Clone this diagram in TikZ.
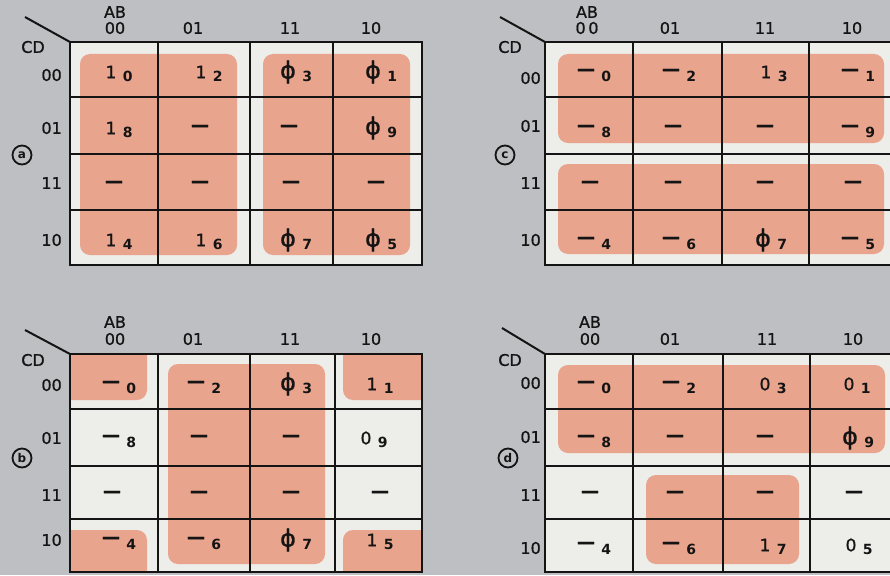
\documentclass[tikz,border=0pt]{standalone}
\usepackage{fontspec}
\setmainfont{DejaVu Sans}
\newfontfamily\hvyfont[FakeBold=1]{DejaVu Sans}
\definecolor{bggray}{RGB}{189,191,194}
\definecolor{cellw}{RGB}{237,237,233}
\definecolor{salmon}{RGB}{232,164,141}
\definecolor{ink}{RGB}{20,20,20}
\newcommand\kphi{{\fontsize{24}{24}\selectfont ϕ}}
\newcommand\kdash{{\bfseries\fontsize{18}{18}\selectfont —}}
\newcommand\kval[5]{%
  \node[val] (#1) at (#2,#3) {#4};
  \if\relax\detokenize{#5}\relax\else
    \node[num,anchor=west] (#1n) at ([xshift=6pt,yshift=-4pt]#1.east) {#5};
  \fi}
\tikzset{
  val/.style={inner sep=0pt, text=ink, font=\hvyfont\fontsize{17}{17}\selectfont},
  num/.style={inner sep=0pt, text=ink, font=\bfseries\fontsize{14}{14}\selectfont},
  hdr/.style={inner sep=0pt, text=ink, font=\hvyfont\fontsize{16}{16}\selectfont},
  rowlab/.style={hdr, anchor=east},
  tag/.style={circle, draw=ink, line width=1.8pt, minimum size=19pt, inner sep=0pt, text=ink, font=\bfseries\fontsize{12}{12}\selectfont},
  innerline/.style={draw=ink, line width=1.5pt},
  frame/.style={draw=ink, line width=2.4pt},
  diag/.style={draw=ink, line width=2pt},
  shade/.style={fill=salmon, rounded corners=10pt},
}
\begin{document}
\begin{tikzpicture}[x=1pt,y=-1pt]
\clip (0,0) rectangle (890,575);
\fill[bggray] (0,0) rectangle (890,575);

% ================= map (a)
\fill[cellw] (70,42) rectangle (422,265);
\begin{scope}
  \clip (70,42) rectangle (422,265);
  \fill[shade] (80,54) rectangle (237,255);
  \fill[shade] (263,54) rectangle (410,255);
\end{scope}
\foreach \x in {158,250,333} \draw[innerline] (\x,42) -- (\x,265);
\foreach \y in {97,154,210} \draw[innerline] (70,\y) -- (422,\y);
\draw[frame] (70,42) rectangle (422,265);
\coordinate (a-corner) at (70,42);
\coordinate (a-dstart) at (25,17);
\draw[diag] (a-dstart) -- (a-corner);
\node[hdr] (a-AB) at (115,12) {AB};
\node[hdr] (a-h1) at (115,28) {00};
\node[hdr] (a-h2) at (193,28) {01};
\node[hdr] (a-h3) at (290,28) {11};
\node[hdr] (a-h4) at (371,28) {10};
\node[hdr] (a-CD) at (33,47) {CD};
\node[rowlab] (a-r1) at (62,75) {00};
\node[rowlab] (a-r2) at (62,128) {01};
\node[rowlab] (a-r3) at (62,183) {11};
\node[rowlab] (a-r4) at (62,240) {10};
\node[tag] (a-tag) at (22,155) {a};
\kval{a11}{111}{72}{1}{0}
\kval{a12}{201}{72}{1}{2}
\kval{a13}{288}{72}{\kphi}{3}
\kval{a14}{373}{72}{\kphi}{1}
\kval{a21}{111}{128}{1}{8}
\kval{a22}{200}{128}{\kdash}{}
\kval{a23}{289}{128}{\kdash}{}
\kval{a24}{373}{128}{\kphi}{9}
\kval{a31}{114}{184}{\kdash}{}
\kval{a32}{200}{184}{\kdash}{}
\kval{a33}{291}{184}{\kdash}{}
\kval{a34}{376}{184}{\kdash}{}
\kval{a41}{111}{240}{1}{4}
\kval{a42}{201}{240}{1}{6}
\kval{a43}{288}{240}{\kphi}{7}
\kval{a44}{373}{240}{\kphi}{5}

% ================= map (c)
\fill[cellw] (545,42) rectangle (898,265);
\begin{scope}
  \clip (545,42) rectangle (898,265);
  \fill[shade] (558,54) rectangle (884,143);
  \fill[shade] (558,164) rectangle (884,254);
\end{scope}
\foreach \x in {633,722,809} \draw[innerline] (\x,42) -- (\x,265);
\foreach \y in {97,154,210} \draw[innerline] (545,\y) -- (898,\y);
\draw[frame] (545,42) rectangle (898,265);
\coordinate (c-corner) at (545,42);
\coordinate (c-dstart) at (500,17);
\draw[diag] (c-dstart) -- (c-corner);
\node[hdr] (c-AB) at (587,12) {AB};
\node[hdr] (c-h1) at (587,28) {0\,0};
\node[hdr] (c-h2) at (670,28) {01};
\node[hdr] (c-h3) at (765,28) {11};
\node[hdr] (c-h4) at (852,28) {10};
\node[hdr] (c-CD) at (510,47) {CD};
\node[rowlab] (c-r1) at (541,78) {00};
\node[rowlab] (c-r2) at (541,126) {01};
\node[rowlab] (c-r3) at (541,183) {11};
\node[rowlab] (c-r4) at (541,240) {10};
\node[tag] (c-tag) at (505,155) {c};
\kval{c11}{586}{72}{\kdash}{0}
\kval{c12}{671}{72}{\kdash}{2}
\kval{c13}{766}{72}{1}{3}
\kval{c14}{850}{72}{\kdash}{1}
\kval{c21}{586}{128}{\kdash}{8}
\kval{c22}{673}{128}{\kdash}{}
\kval{c23}{765}{128}{\kdash}{}
\kval{c24}{850}{128}{\kdash}{9}
\kval{c31}{590}{184}{\kdash}{}
\kval{c32}{673}{184}{\kdash}{}
\kval{c33}{765}{184}{\kdash}{}
\kval{c34}{853}{184}{\kdash}{}
\kval{c41}{586}{240}{\kdash}{4}
\kval{c42}{671}{240}{\kdash}{6}
\kval{c43}{763}{240}{\kphi}{7}
\kval{c44}{850}{240}{\kdash}{5}

% ================= map (b)
\fill[cellw] (70,354) rectangle (422,572);
\begin{scope}
  \clip (70,354) rectangle (422,572);
  \fill[shade] (40,320) rectangle (147,400);
  \fill[shade] (40,530) rectangle (147,610);
  \fill[shade] (343,320) rectangle (450,400);
  \fill[shade] (343,530) rectangle (450,610);
  \fill[shade] (168,364) rectangle (325,564);
\end{scope}
\foreach \x in {158,250,335} \draw[innerline] (\x,354) -- (\x,572);
\foreach \y in {409,466,519} \draw[innerline] (70,\y) -- (422,\y);
\draw[frame] (70,354) rectangle (422,572);
\coordinate (b-corner) at (70,354);
\coordinate (b-dstart) at (25,330);
\draw[diag] (b-dstart) -- (b-corner);
\node[hdr] (b-AB) at (115,322) {AB};
\node[hdr] (b-h1) at (115,339) {00};
\node[hdr] (b-h2) at (193,339) {01};
\node[hdr] (b-h3) at (290,339) {11};
\node[hdr] (b-h4) at (371,339) {10};
\node[hdr] (b-CD) at (33,360) {CD};
\node[rowlab] (b-r1) at (62,385) {00};
\node[rowlab] (b-r2) at (62,438) {01};
\node[rowlab] (b-r3) at (62,495) {11};
\node[rowlab] (b-r4) at (62,540) {10};
\node[tag] (b-tag) at (22,458) {b};
\kval{b11}{111}{384}{\kdash}{0}
\kval{b12}{196}{384}{\kdash}{2}
\kval{b13}{288}{384}{\kphi}{3}
\kval{b14}{372}{384}{1}{1}
\kval{b21}{111}{438}{\kdash}{8}
\kval{b22}{199}{438}{\kdash}{}
\kval{b23}{291}{438}{\kdash}{}
\kval{b24}{366}{438}{0}{9}
\kval{b31}{112}{494}{\kdash}{}
\kval{b32}{199}{494}{\kdash}{}
\kval{b33}{291}{494}{\kdash}{}
\kval{b34}{380}{494}{\kdash}{}
\kval{b41}{111}{540}{\kdash}{4}
\kval{b42}{196}{540}{\kdash}{6}
\kval{b43}{288}{540}{\kphi}{7}
\kval{b44}{372}{540}{1}{5}

% ================= map (d)
\fill[cellw] (545,354) rectangle (898,572);
\begin{scope}
  \clip (545,354) rectangle (898,572);
  \fill[shade] (558,365) rectangle (885,453);
  \fill[shade] (646,475) rectangle (799,564);
\end{scope}
\foreach \x in {633,723,810} \draw[innerline] (\x,354) -- (\x,572);
\foreach \y in {409,466,519} \draw[innerline] (545,\y) -- (898,\y);
\draw[frame] (545,354) rectangle (898,572);
\coordinate (d-corner) at (545,354);
\coordinate (d-dstart) at (502,328);
\draw[diag] (d-dstart) -- (d-corner);
\node[hdr] (d-AB) at (590,322) {AB};
\node[hdr] (d-h1) at (590,339) {00};
\node[hdr] (d-h2) at (670,339) {01};
\node[hdr] (d-h3) at (767,339) {11};
\node[hdr] (d-h4) at (853,339) {10};
\node[hdr] (d-CD) at (510,360) {CD};
\node[rowlab] (d-r1) at (541,383) {00};
\node[rowlab] (d-r2) at (541,437) {01};
\node[rowlab] (d-r3) at (541,495) {11};
\node[rowlab] (d-r4) at (541,548) {10};
\node[tag] (d-tag) at (508,458) {d};
\kval{d11}{586}{384}{\kdash}{0}
\kval{d12}{671}{384}{\kdash}{2}
\kval{d13}{765}{384}{0}{3}
\kval{d14}{849}{384}{0}{1}
\kval{d21}{586}{438}{\kdash}{8}
\kval{d22}{675}{438}{\kdash}{}
\kval{d23}{765}{438}{\kdash}{}
\kval{d24}{850}{438}{\kphi}{9}
\kval{d31}{590}{494}{\kdash}{}
\kval{d32}{675}{494}{\kdash}{}
\kval{d33}{765}{494}{\kdash}{}
\kval{d34}{854}{494}{\kdash}{}
\kval{d41}{586}{545}{\kdash}{4}
\kval{d42}{671}{545}{\kdash}{6}
\kval{d43}{765}{545}{1}{7}
\kval{d44}{851}{545}{0}{5}
\end{tikzpicture}
\end{document}
